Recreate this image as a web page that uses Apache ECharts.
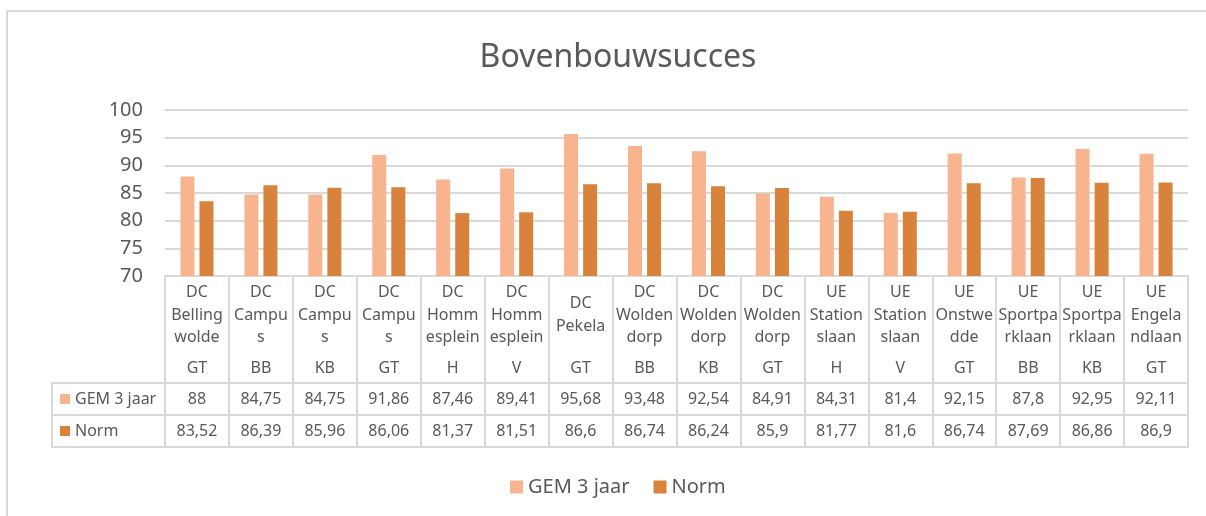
<!DOCTYPE html>
<html>
<head>
<meta charset="utf-8">
<script src="https://cdn.jsdelivr.net/npm/echarts@6/dist/echarts.min.js"></script>
<style>
  html, body { margin: 0; padding: 0; background: #fff; }
  #chart { width: 1206px; height: 516px; }
</style>
</head>
<body>
<div id="chart"></div>
<script>
// locaties zoals Excel ze afbreekt in de tabelcel
var locations = [
  'DC\nBelling\nwolde', 'DC\nCampu\ns', 'DC\nCampu\ns', 'DC\nCampu\ns',
  'DC\nHomm\nesplein', 'DC\nHomm\nesplein', 'DC\nPekela', 'DC\nWolden\ndorp',
  'DC\nWolden\ndorp', 'DC\nWolden\ndorp', 'UE\nStation\nslaan', 'UE\nStation\nslaan',
  'UE\nOnstwe\ndde', 'UE\nSportpa\nrklaan', 'UE\nSportpa\nrklaan', 'UE\nEngela\nndlaan'
];
var levels = ['GT', 'BB', 'KB', 'GT', 'H', 'V', 'GT', 'BB', 'KB', 'GT', 'H', 'V', 'GT', 'BB', 'KB', 'GT'];
var seriesNames = ['GEM 3 jaar', 'Norm'];
var gem = [88, 84.75, 84.75, 91.86, 87.46, 89.41, 95.68, 93.48, 92.54, 84.91, 84.31, 81.4, 92.15, 87.8, 92.95, 92.11];
var norm = [83.52, 86.39, 85.96, 86.06, 81.37, 81.51, 86.6, 86.74, 86.24, 85.9, 81.77, 81.6, 86.74, 87.69, 86.86, 86.9];
var yTicks = { min: 70, max: 100, interval: 5 };

var colors = ['#F8B48E', '#D9823B'];
var txt = '#595959';
var line = '#D9D9D9';
var font = 'Noto Sans';

function nl(v) { return String(v).replace('.', ','); }

var chart = echarts.init(document.getElementById('chart'));

function rowHeader(name, color) {
  return {
    type: 'category', data: [name],
    axisLine: { show: false }, axisTick: { show: false }, splitLine: { show: false },
    axisLabel: {
      align: 'left', margin: 105,
      formatter: function (v) { return '{sq|}{t|' + v + '}'; },
      rich: {
        sq: { width: 10, height: 10, backgroundColor: color },
        t: { fontSize: 16, color: txt, fontFamily: font, padding: [0, 0, 0, 5] }
      }
    }
  };
}

function tableAxis(grid, data, pos, margin, split) {
  return {
    type: 'category', gridIndex: grid, position: pos, data: data,
    axisLine: { show: false }, axisTick: { show: false, interval: 0 },
    splitLine: { show: split, interval: 0, lineStyle: { color: line, width: 2 } },
    axisLabel: {
      inside: true, interval: 0, margin: margin, verticalAlign: 'middle',
      fontSize: 16, color: txt, fontFamily: font, lineHeight: 22.5
    }
  };
}

// kader: alleen boven- en linkerrand zichtbaar
var frameLine = { show: true, onZero: false, lineStyle: { color: line, width: 2 } };

var option = {
  animation: false,
  color: colors,
  title: {
    text: 'Bovenbouwsucces', left: 613, top: 37, textAlign: 'center',
    textStyle: { fontSize: 32, fontWeight: 'normal', color: txt, fontFamily: font }
  },
  legend: {
    left: 505, top: 472, icon: 'rect', itemWidth: 13, itemHeight: 13, itemGap: 24,
    textStyle: { fontSize: 20, color: txt, fontFamily: font }
  },
  grid: [
    { left: 165, right: 18, top: 110, height: 166 },
    { left: 165, right: 18, top: 276, height: 107, show: true, borderColor: line, borderWidth: 2 },
    { left: 165, right: 18, top: 383, height: 32, show: true, borderColor: line, borderWidth: 2 },
    { left: 165, right: 18, top: 415, height: 32, show: true, borderColor: line, borderWidth: 2 },
    { left: 52, width: 113, top: 383, height: 32, show: true, borderColor: line, borderWidth: 2 },
    { left: 52, width: 113, top: 415, height: 32, show: true, borderColor: line, borderWidth: 2 },
    { left: 7, top: 11, right: 0, bottom: 0 }
  ],
  xAxis: [
    {
      type: 'category', gridIndex: 0,
      data: locations.map(function (l, i) { return l + ' ' + levels[i]; }),
      axisLine: { show: false }, axisTick: { show: false }, axisLabel: { show: false }
    },
    tableAxis(1, locations, 'top', 39, true),
    tableAxis(1, levels, 'bottom', 15, false),
    tableAxis(2, gem.map(nl), 'top', 16, true),
    tableAxis(3, norm.map(nl), 'top', 16, true),
    {
      type: 'value', gridIndex: 6, position: 'top', axisLine: frameLine,
      axisTick: { show: false }, axisLabel: { show: false }, splitLine: { show: false }
    }
  ],
  yAxis: [
    {
      type: 'value', gridIndex: 0, min: yTicks.min, max: yTicks.max, interval: yTicks.interval,
      axisLine: { show: false }, axisTick: { show: false },
      axisLabel: { fontSize: 20, color: txt, fontFamily: font, margin: 22 },
      splitLine: { lineStyle: { color: line, width: 2 } }
    },
    { type: 'value', gridIndex: 1, show: false },
    Object.assign(rowHeader(seriesNames[0], colors[0]), { gridIndex: 2 }),
    Object.assign(rowHeader(seriesNames[1], colors[1]), { gridIndex: 3 }),
    {
      type: 'value', gridIndex: 6, position: 'left', axisLine: frameLine,
      axisTick: { show: false }, axisLabel: { show: false }, splitLine: { show: false }
    }
  ],
  series: [
    { name: seriesNames[0], type: 'bar', xAxisIndex: 0, yAxisIndex: 0, data: gem, barWidth: 14, barGap: '36%' },
    { name: seriesNames[1], type: 'bar', xAxisIndex: 0, yAxisIndex: 0, data: norm, barWidth: 14, barGap: '36%' }
  ]
};
chart.setOption(option);
</script>
</body>
</html>
